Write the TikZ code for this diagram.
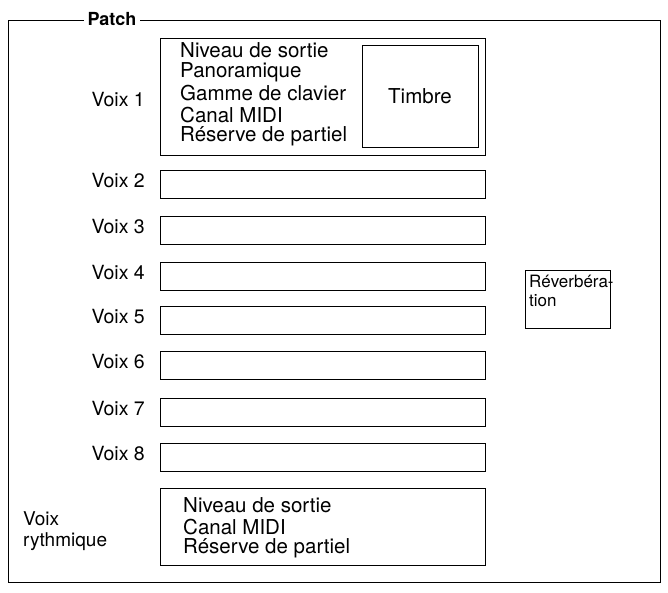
\documentclass[tikz,border=0pt]{standalone}
\usepackage{fontspec}
\setmainfont{TeX Gyre Heros}
\begin{document}
\begin{tikzpicture}[x=1pt,y=-1pt,
  bx/.style={draw,line width=0.9pt},
  txt/.style={font=\fontsize{20.5}{21}\selectfont,inner sep=0pt},
  lbl/.style={font=\fontsize{19.5}{22}\selectfont,inner sep=0pt,anchor=east}]
\useasboundingbox (0,0) rectangle (668,592);
\draw[line width=0.8pt] (8,20) rectangle (660,582);
\node[fill=white,inner xsep=4pt,inner ysep=1pt,font=\fontsize{18}{20}\selectfont\bfseries] (patch) at (112,19) {Patch};
% Voix 1
\draw[bx] (160,38) rectangle (485,155);
\node[bx,minimum width=116pt,minimum height=102pt,txt] (timbre) at (420,96) {Timbre};
\foreach \t [count=\i] in {Niveau de sortie,Panoramique,Gamme de clavier,Canal MIDI,Réserve de partiel}
  \node[txt,anchor=west] (l\i) at (180,29+21.5*\i) {\t};
\node[lbl] (v1) at (145,100) {Voix 1};
\foreach \n/\y in {2/184,3/230,4/276,5/320,6/365,7/412,8/457}{
  \draw[bx] (160,\y-14) rectangle (485,\y+14);
  \node[lbl] (v\n) at (145,\y-3) {Voix \n};
}
\draw[bx] (160,488) rectangle (485,565);
\foreach \t [count=\i] in {Niveau de sortie,Canal MIDI,Réserve de partiel}
  \node[txt,anchor=west] (r\i) at (183,484+21.5*\i) {\t};
\node[txt,anchor=west,align=left,font=\fontsize{19}{21}\selectfont] (vr) at (23,531) {Voix\\rythmique};
\draw[bx] (525,270) rectangle (610,328);
\node[txt,anchor=north west,align=left,font=\fontsize{17}{19}\selectfont] (rev) at (529,275) {Réverbéra-\\tion};
\end{tikzpicture}
\end{document}
